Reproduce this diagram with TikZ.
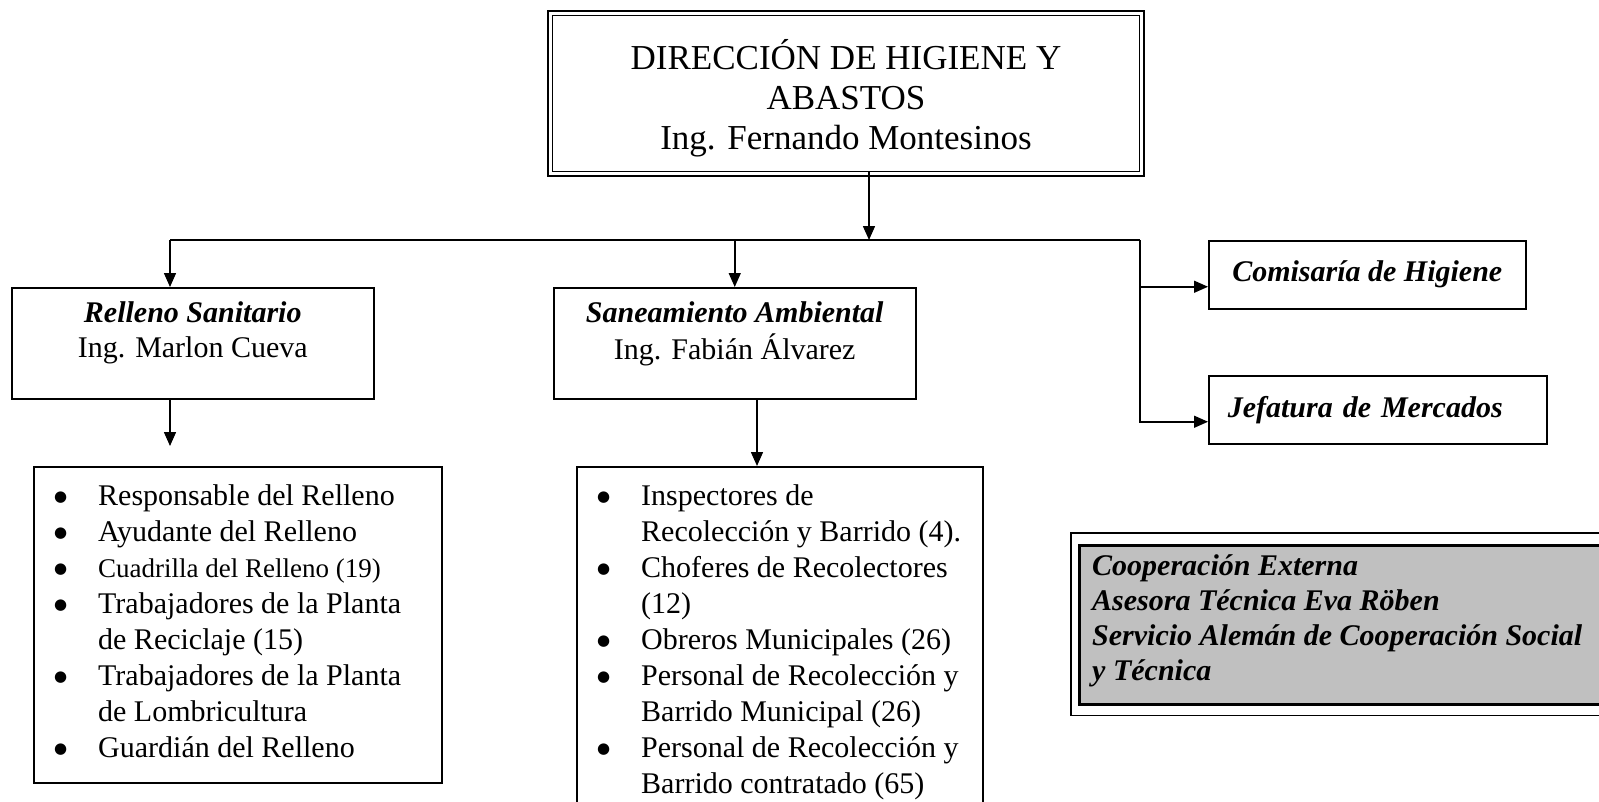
\documentclass[tikz,border=0pt]{standalone}
\usepackage{fontspec}
\setmainfont{Liberation Serif}
\newfontfamily\dotfont{DejaVu Sans}
\usetikzlibrary{arrows.meta,positioning}

\definecolor{coopgray}{RGB}{192,192,192}

\tikzset{
  frame/.style={draw, line width=1.5pt, inner sep=0pt, anchor=north west},
  conn/.style={line width=1.5pt, -{Triangle[length=14pt,width=12pt]}},
  bus/.style={line width=1.5pt},
  body/.style={font=\fontsize{30}{36}\selectfont, inner sep=0pt, align=left, anchor=north west},
  head/.style={font=\fontsize{30}{35}\selectfont\bfseries\itshape, inner sep=0pt},
}
\newcommand{\itm}{\makebox[44pt][l]{\raisebox{4pt}{\dotfont\fontsize{15}{15}\selectfont ●}}}
\newcommand{\cnt}{\hspace*{44pt}}

\begin{document}
\begin{tikzpicture}[x=1pt, y=-1pt]
    \useasboundingbox (0,0) rectangle (1599,801);
    \clip (0,0) rectangle (1599,801);

    % direccion
    \node[frame, line width=1pt, minimum width=587pt, minimum height=156pt] (dir) at (552,15) {};
    \draw[line width=2pt] ([shift={(-4,-4)}]dir.north west) rectangle ([shift={(4,4)}]dir.south east);
    \node[anchor=north, align=center, inner sep=0pt, font=\fontsize{35}{40}\selectfont,
      below=24pt of dir.north] (dirtxt)
      {\strut DIRECCIÓN DE HIGIENE Y\\ABASTOS\\Ing. Fernando Montesinos};

    % jefaturas
    \node[frame, minimum width=362pt, minimum height=111pt] (rell) at (11,287) {};
    \node[anchor=north, align=center, inner sep=0pt, font=\fontsize{30}{35}\selectfont,
      below=10.5pt of rell.north] (relltxt)
      {\strut\textbf{\textit{Relleno Sanitario}}\\Ing. Marlon Cueva};
    \node[frame, minimum width=362pt, minimum height=111pt] (sane) at (553,287) {};
    \node[anchor=north, align=center, inner sep=0pt, font=\fontsize{30}{35}\selectfont,
      below=10.5pt of sane.north] (sanetxt)
      {\strut\textbf{\textit{Saneamiento Ambiental}}\\Ing. Fabián Álvarez};

    \node[frame, head, minimum width=317pt, minimum height=68pt] (comi) at (1208,240) {Comisaría de Higiene};
    \node[frame, head, text width=300pt, align=left, inner xsep=19pt, minimum height=68pt] (jefa) at (1208,375) {Jefatura de Mercados};

    % personal
    \node[frame, minimum width=408pt, minimum height=316pt] (lstR) at (33,466) {};
    \node[body, below right=13.8pt and 21pt of lstR.north west] (lstRtxt)
      {\strut\itm Responsable del Relleno\\
       \itm Ayudante del Relleno\\
       {\fontsize{27}{36}\selectfont\itm Cuadrilla del Relleno (19)}\\
       \itm Trabajadores de la Planta\\
       \cnt de Reciclaje (15)\\
       \itm Trabajadores de la Planta\\
       \cnt de Lombricultura\\
       \itm Guardián del Relleno};

    \node[frame, minimum width=406pt, minimum height=360pt] (lstS) at (576,466) {};
    \node[body, below right=13.8pt and 21pt of lstS.north west] (lstStxt)
      {\strut\itm Inspectores de\\
       \cnt Recolección y Barrido (4).\\
       \itm Choferes de Recolectores\\
       \cnt (12)\\
       \itm Obreros Municipales (26)\\
       \itm Personal de Recolección y\\
       \cnt Barrido Municipal (26)\\
       \itm Personal de Recolección y\\
       \cnt Barrido contratado (65)};

    % cooperacion
    \node[frame, fill=coopgray, line width=2.5pt, minimum width=560pt, minimum height=159pt] (coop) at (1078,544) {};
    \draw[line width=1.2pt] ([shift={(-7,-11)}]coop.north west) rectangle ([shift={(20,10)}]coop.south east);
    \node[head, align=left, anchor=north west, below right=6.5pt and 14pt of coop.north west] (cooptxt)
      {\strut Cooperación Externa\\Asesora Técnica Eva Röben\\Servicio Alemán de Cooperación Social\\y Técnica};

    % conectores
    \coordinate (split) at (869,240);
    \coordinate (busL) at (170,240);
    \coordinate (busR) at (1140,240);
    \coordinate (rellEnd) at (170,446);
    \coordinate (saneDrop) at (757,0);
    \coordinate (comiIn) at ([yshift=-12pt]comi.west);
    \coordinate (jefaIn) at ([yshift=-12pt]jefa.west);

    \draw[conn] (dir.south -| split) -- (split);
    \draw[bus] (busL) -- (busR);
    \draw[conn] (busL) -- (busL |- rell.north);
    \draw[conn] (busL -| sane.north) -- (sane.north);
    \draw[conn] (busR) |- (jefaIn);
    \draw[conn] (busR |- comiIn) -- (comiIn);
    \draw[conn] (rell.south -| busL) -- (rellEnd);
    \draw[conn] (sane.south -| saneDrop) -- (lstS.north -| saneDrop);

\end{tikzpicture}
\end{document}
